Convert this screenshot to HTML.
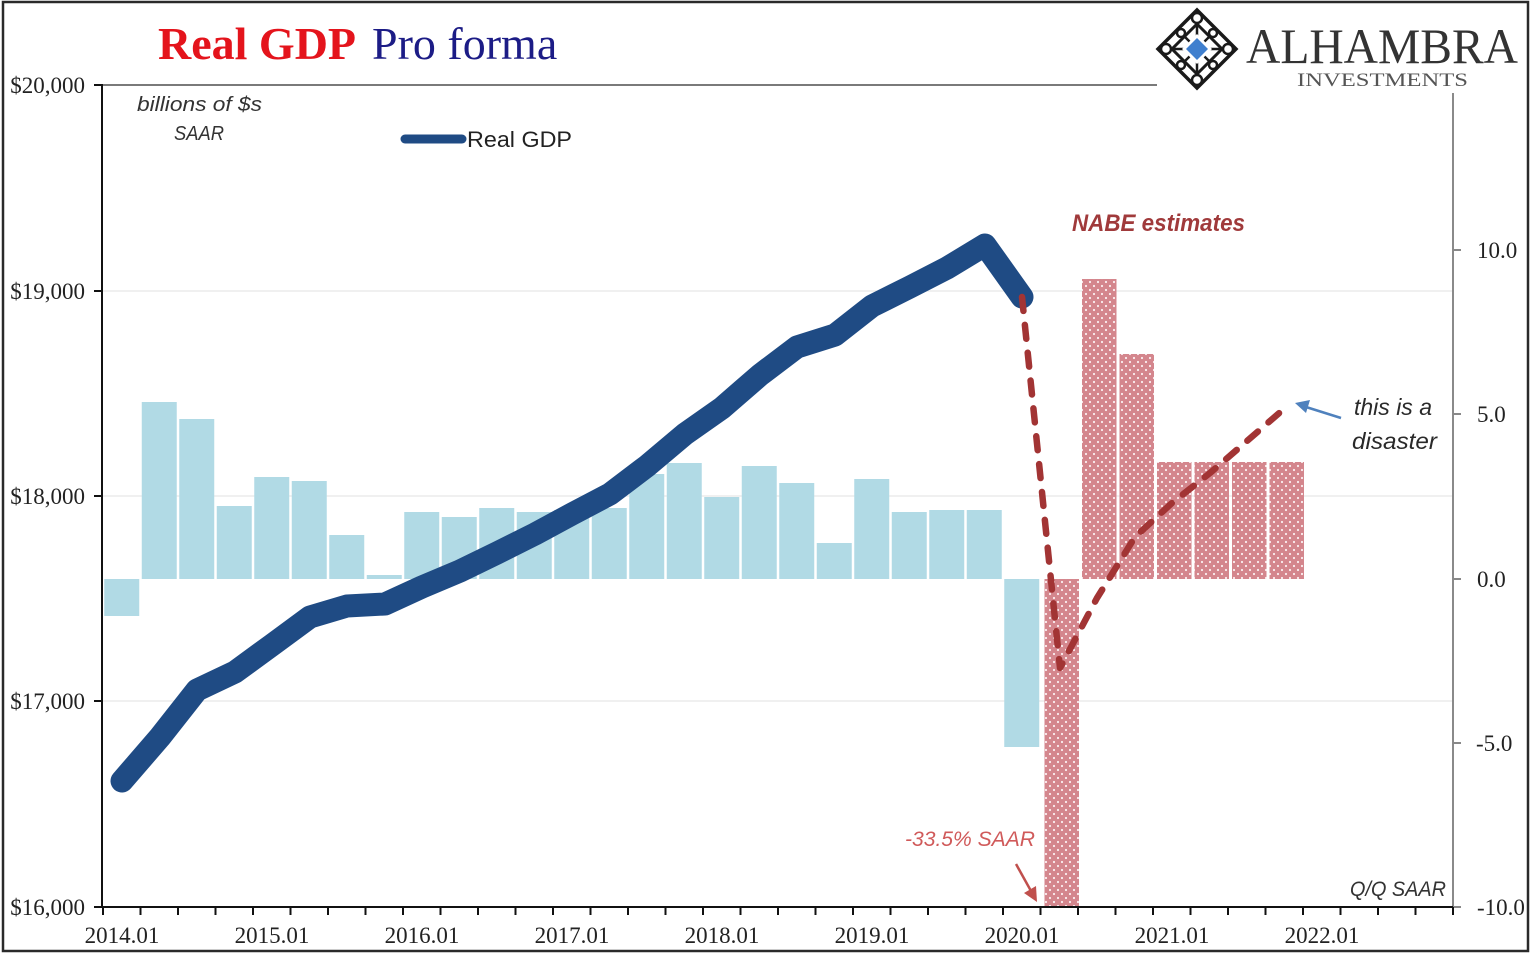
<!DOCTYPE html>
<html>
<head>
<meta charset="utf-8">
<style>
  html,body{margin:0;padding:0;background:#fff;}
  svg{display:block;}
  .tick{font-family:"Liberation Serif",serif;font-size:23px;fill:#222;}
  .ital{font-family:"Liberation Sans",sans-serif;font-style:italic;}
</style>
</head>
<body>
<svg width="1540" height="960" viewBox="0 0 1540 960" xmlns="http://www.w3.org/2000/svg">
  <defs>
    <pattern id="dots" x="0" y="0" width="8" height="8" patternUnits="userSpaceOnUse">
      <rect width="8" height="8" fill="#d4868d"/>
      <circle cx="2" cy="2" r="1.1" fill="#fbeef0"/>
      <circle cx="6" cy="6" r="1.1" fill="#fbeef0"/>
    </pattern>
  </defs>
  <rect width="1540" height="960" fill="#fff"/>
  <!-- outer frame -->
  <rect x="3" y="2" width="1525" height="949" fill="none" stroke="#2a2a2a" stroke-width="2.5"/>

  <!-- title -->
  <text x="158" y="59" font-family="'Liberation Serif',serif" font-size="46" font-weight="bold" fill="#e4141c">Real GDP</text>
  <text x="372" y="59" font-family="'Liberation Serif',serif" font-size="46" fill="#1c1c86">Pro forma</text>

  <!-- logo -->
  <g stroke="#1a1a1a" fill="none">
    <polygon points="1197,10 1236,49 1197,88 1158,49" stroke-width="3.5"/>
    <polygon points="1197,24 1222,49 1197,74 1172,49" stroke-width="3"/>
    <line x1="1177" y1="29" x2="1217" y2="69" stroke-width="2.5"/>
    <line x1="1217" y1="29" x2="1177" y2="69" stroke-width="2.5"/>
    <line x1="1197" y1="10" x2="1197" y2="88" stroke-width="2.5"/>
    <line x1="1158" y1="49" x2="1236" y2="49" stroke-width="2.5"/>
    <circle cx="1197" cy="18" r="5" fill="#fff" stroke-width="2.5"/>
    <circle cx="1197" cy="80" r="5" fill="#fff" stroke-width="2.5"/>
    <circle cx="1166" cy="49" r="5" fill="#fff" stroke-width="2.5"/>
    <circle cx="1228" cy="49" r="5" fill="#fff" stroke-width="2.5"/>
    <circle cx="1181" cy="33" r="4" fill="#fff" stroke-width="2.5"/>
    <circle cx="1213" cy="33" r="4" fill="#fff" stroke-width="2.5"/>
    <circle cx="1181" cy="65" r="4" fill="#fff" stroke-width="2.5"/>
    <circle cx="1213" cy="65" r="4" fill="#fff" stroke-width="2.5"/>
  </g>
  <polygon points="1197,34 1212,49 1197,64 1182,49" fill="#fff"/>
  <polygon points="1197,38 1208,49 1197,60 1186,49" fill="#3f7fce"/>
  <text x="1246" y="63" font-family="'Liberation Serif',serif" font-size="50" fill="#333" textLength="272" lengthAdjust="spacingAndGlyphs">ALHAMBRA</text>
  <text x="1297" y="86" font-family="'Liberation Serif',serif" font-size="19" fill="#555" textLength="171" lengthAdjust="spacingAndGlyphs">INVESTMENTS</text>

  <!-- gridlines -->
  <g stroke="#ececec" stroke-width="1.5">
    <line x1="103" y1="291" x2="1453" y2="291"/>
    <line x1="103" y1="496" x2="1453" y2="496"/>
    <line x1="103" y1="701" x2="1453" y2="701"/>
  </g>

  <!-- light blue bars -->
  <g fill="#b1dae5">
    <rect x="104.25" y="579" width="35" height="37"/>
    <rect x="141.75" y="402" width="35" height="177"/>
    <rect x="179.25" y="419" width="35" height="160"/>
    <rect x="216.75" y="506" width="35" height="73"/>
    <rect x="254.25" y="477" width="35" height="102"/>
    <rect x="291.75" y="481" width="35" height="98"/>
    <rect x="329.25" y="535" width="35" height="44"/>
    <rect x="366.75" y="575" width="35" height="4"/>
    <rect x="404.25" y="512" width="35" height="67"/>
    <rect x="441.75" y="517" width="35" height="62"/>
    <rect x="479.25" y="508" width="35" height="71"/>
    <rect x="516.75" y="512" width="35" height="67"/>
    <rect x="554.25" y="510" width="35" height="69"/>
    <rect x="591.75" y="508" width="35" height="71"/>
    <rect x="629.25" y="474" width="35" height="105"/>
    <rect x="666.75" y="463" width="35" height="116"/>
    <rect x="704.25" y="497" width="35" height="82"/>
    <rect x="741.75" y="466" width="35" height="113"/>
    <rect x="779.25" y="483" width="35" height="96"/>
    <rect x="816.75" y="543" width="35" height="36"/>
    <rect x="854.25" y="479" width="35" height="100"/>
    <rect x="891.75" y="512" width="35" height="67"/>
    <rect x="929.25" y="510" width="35" height="69"/>
    <rect x="966.75" y="510" width="35" height="69"/>
    <rect x="1004.25" y="579" width="35" height="168"/>
  </g>
  <!-- red dotted bars -->
  <g fill="url(#dots)">
    <rect x="1044.5" y="579" width="34.5" height="328"/>
    <rect x="1082" y="279" width="34.5" height="300"/>
    <rect x="1119.5" y="354" width="34.5" height="225"/>
    <rect x="1157" y="462" width="34.5" height="117"/>
    <rect x="1194.5" y="462" width="34.5" height="117"/>
    <rect x="1232" y="462" width="34.5" height="117"/>
    <rect x="1269.5" y="462" width="34.5" height="117"/>
  </g>

  <!-- axes -->
  <line x1="102" y1="85" x2="1157" y2="85" stroke="#7a7a7a" stroke-width="2"/>
  <line x1="1453" y1="93" x2="1453" y2="908" stroke="#8a8a8a" stroke-width="2"/>
  <line x1="102" y1="84" x2="102" y2="908" stroke="#111" stroke-width="2"/>
  <line x1="101" y1="907" x2="1454" y2="907" stroke="#111" stroke-width="2"/>
  <g stroke="#111" stroke-width="2">
    <line x1="94" y1="85" x2="102" y2="85"/>
    <line x1="94" y1="291" x2="102" y2="291"/>
    <line x1="94" y1="496" x2="102" y2="496"/>
    <line x1="94" y1="701" x2="102" y2="701"/>
    <line x1="94" y1="907" x2="102" y2="907"/>
  </g>
  <g stroke="#888" stroke-width="2">
    <line x1="1453" y1="250" x2="1461" y2="250"/>
    <line x1="1453" y1="414" x2="1461" y2="414"/>
    <line x1="1453" y1="579" x2="1461" y2="579"/>
    <line x1="1453" y1="743" x2="1461" y2="743"/>
    <line x1="1453" y1="907" x2="1461" y2="907"/>
  </g>
  <g stroke="#111" stroke-width="2">
    <line x1="103" y1="907" x2="103" y2="915"/><line x1="140.5" y1="907" x2="140.5" y2="915"/>
    <line x1="178" y1="907" x2="178" y2="915"/><line x1="215.5" y1="907" x2="215.5" y2="915"/>
    <line x1="253" y1="907" x2="253" y2="915"/><line x1="290.5" y1="907" x2="290.5" y2="915"/>
    <line x1="328" y1="907" x2="328" y2="915"/><line x1="365.5" y1="907" x2="365.5" y2="915"/>
    <line x1="403" y1="907" x2="403" y2="915"/><line x1="440.5" y1="907" x2="440.5" y2="915"/>
    <line x1="478" y1="907" x2="478" y2="915"/><line x1="515.5" y1="907" x2="515.5" y2="915"/>
    <line x1="553" y1="907" x2="553" y2="915"/><line x1="590.5" y1="907" x2="590.5" y2="915"/>
    <line x1="628" y1="907" x2="628" y2="915"/><line x1="665.5" y1="907" x2="665.5" y2="915"/>
    <line x1="703" y1="907" x2="703" y2="915"/><line x1="740.5" y1="907" x2="740.5" y2="915"/>
    <line x1="778" y1="907" x2="778" y2="915"/><line x1="815.5" y1="907" x2="815.5" y2="915"/>
    <line x1="853" y1="907" x2="853" y2="915"/><line x1="890.5" y1="907" x2="890.5" y2="915"/>
    <line x1="928" y1="907" x2="928" y2="915"/><line x1="965.5" y1="907" x2="965.5" y2="915"/>
    <line x1="1003" y1="907" x2="1003" y2="915"/><line x1="1040.5" y1="907" x2="1040.5" y2="915"/>
    <line x1="1078" y1="907" x2="1078" y2="915"/><line x1="1115.5" y1="907" x2="1115.5" y2="915"/>
    <line x1="1153" y1="907" x2="1153" y2="915"/><line x1="1190.5" y1="907" x2="1190.5" y2="915"/>
    <line x1="1228" y1="907" x2="1228" y2="915"/><line x1="1265.5" y1="907" x2="1265.5" y2="915"/>
    <line x1="1303" y1="907" x2="1303" y2="915"/><line x1="1340.5" y1="907" x2="1340.5" y2="915"/>
    <line x1="1378" y1="907" x2="1378" y2="915"/><line x1="1415.5" y1="907" x2="1415.5" y2="915"/>
    <line x1="1453" y1="907" x2="1453" y2="915"/>
  </g>

  <!-- tick labels -->
  <g class="tick" text-anchor="end">
    <text x="85" y="93">$20,000</text>
    <text x="85" y="299">$19,000</text>
    <text x="85" y="504">$18,000</text>
    <text x="85" y="709">$17,000</text>
    <text x="85" y="915">$16,000</text>
  </g>
  <g class="tick">
    <text x="1477" y="258">10.0</text>
    <text x="1477" y="422">5.0</text>
    <text x="1477" y="587">0.0</text>
    <text x="1476" y="751">-5.0</text>
    <text x="1477" y="915">-10.0</text>
  </g>
  <g class="tick" text-anchor="middle">
    <text x="122" y="943">2014.01</text>
    <text x="272" y="943">2015.01</text>
    <text x="422" y="943">2016.01</text>
    <text x="572" y="943">2017.01</text>
    <text x="722" y="943">2018.01</text>
    <text x="872" y="943">2019.01</text>
    <text x="1022" y="943">2020.01</text>
    <text x="1172" y="943">2021.01</text>
    <text x="1322" y="943">2022.01</text>
  </g>

  <!-- Real GDP line -->
  <polyline fill="none" stroke="#1f4b84" stroke-width="23" stroke-linejoin="round" stroke-linecap="round"
    points="122,781 160,737 197,690 235,672 272,645 310,617 347,606 385,604 422,587 460,571 497,553 535,534 572,514 610,494 647,466 685,434 722,408 760,375 797,347 835,335 872,306 910,287 947,268 985,245 1022,297"/>

  <!-- NABE dashed -->
  <polyline fill="none" stroke="#a23434" stroke-width="6.5" stroke-dasharray="14 14" stroke-linecap="round" stroke-linejoin="round"
    points="1022,297 1060,668 1097,598 1135,537 1172,503 1210,473 1247,441 1285,408"/>

  <!-- legend -->
  <line x1="405" y1="139" x2="462" y2="139" stroke="#1f4b84" stroke-width="9" stroke-linecap="round"/>
  <text x="467" y="147" font-family="'Liberation Sans',sans-serif" font-size="22" fill="#222" textLength="105" lengthAdjust="spacingAndGlyphs">Real GDP</text>

  <!-- annotations -->
  <text class="ital" x="137" y="111" font-size="20" fill="#333" textLength="125" lengthAdjust="spacingAndGlyphs">billions of $s</text>
  <text class="ital" x="174" y="140" font-size="20" fill="#333" textLength="50" lengthAdjust="spacingAndGlyphs">SAAR</text>
  <text class="ital" x="1072" y="231" font-size="24" font-weight="bold" fill="#a03a3b" textLength="173" lengthAdjust="spacingAndGlyphs">NABE estimates</text>
  <text class="ital" x="1354" y="415" font-size="23" fill="#2a2a2a" textLength="78" lengthAdjust="spacingAndGlyphs">this is a</text>
  <text class="ital" x="1352" y="449" font-size="23" fill="#2a2a2a" textLength="85" lengthAdjust="spacingAndGlyphs">disaster</text>
  <text class="ital" x="905" y="846" font-size="21" fill="#d05a5a" textLength="130" lengthAdjust="spacingAndGlyphs">-33.5% SAAR</text>
  <text class="ital" x="1350" y="896" font-size="21" fill="#333" textLength="96" lengthAdjust="spacingAndGlyphs">Q/Q SAAR</text>

  <!-- arrows -->
  <line x1="1341" y1="418" x2="1306" y2="407" stroke="#4f81bd" stroke-width="2.5"/>
  <polygon points="1295,403 1310,400 1306,413" fill="#4f81bd"/>
  <line x1="1016" y1="864" x2="1031" y2="891" stroke="#c0504d" stroke-width="2.5"/>
  <polygon points="1037,902 1024,893 1036,886" fill="#c0504d"/>
</svg>
</body>
</html>
